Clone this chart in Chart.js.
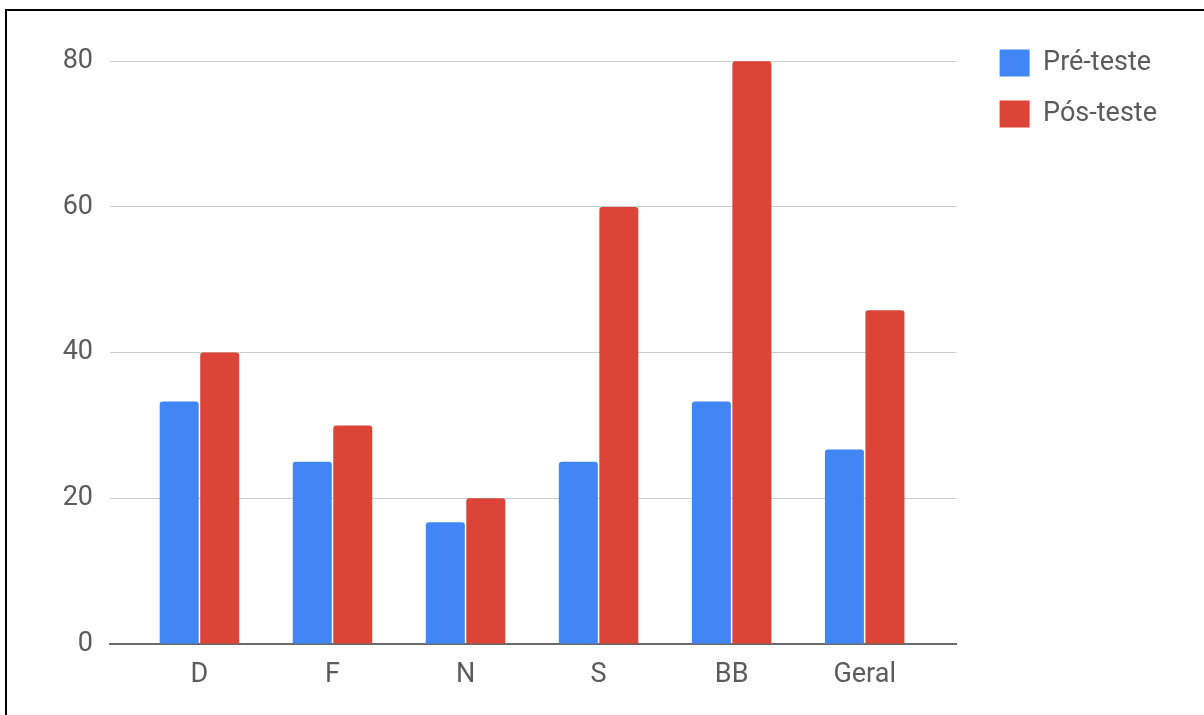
<!DOCTYPE html>
<html>
<head>
<meta charset="utf-8">
<script src="https://cdn.jsdelivr.net/npm/chart.js@4.4.1/dist/chart.umd.min.js"></script>
<style>
  html, body { margin: 0; padding: 0; background: #fff; }
  #wrap { position: relative; width: 1204px; height: 715px; overflow: hidden; }
  #frame { position: absolute; left: 5px; top: 9px; width: 1300px; height: 800px;
           border-top: 2px solid #000; border-left: 2px solid #000; }
  canvas { position: absolute; left: 0; top: 0; }
</style>
</head>
<body>
<div id="wrap">
  <div id="frame"></div>
  <canvas id="chart" width="1204" height="715"></canvas>
</div>
<script>
const categories = ["D", "F", "N", "S", "BB", "Geral"];
const preTest = [33.3, 25, 16.7, 25, 33.3, 26.7];
const postTest = [40, 30, 20, 60, 80, 45.8];
const yTicks = [0, 20, 40, 60, 80];

const toPoints = (values) => values.map((v, i) => ({ x: i, y: v }));

const createComparison = (ctx) => {
  return new Chart(ctx, {
    type: "bar",
    data: {
      datasets: [
        {
          label: "Pré-teste",
          data: toPoints(preTest),
          backgroundColor: "#4285F4",
          borderRadius: 3,
        },
        {
          label: "Pós-teste",
          data: toPoints(postTest),
          backgroundColor: "#DB4437",
          borderRadius: 3,
        },
      ],
    },
    options: {
      responsive: false,
      animation: false,
      categoryPercentage: 0.609,
      barPercentage: 0.963,
      layout: {
        padding: { top: 25.5, left: 4, right: 37, bottom: 0 },
      },
      scales: {
        x: {
          type: "linear",
          offset: false,
          min: -0.6724,
          max: 5.691,
          grid: { display: false, offset: false },
          border: { display: true, color: "#6a6a6a", width: 2 },
          ticks: {
            stepSize: 1,
            includeBounds: false,
            autoSkip: false,
            maxRotation: 0,
            padding: 7,
            color: "#5b5b5b",
            font: { family: "Roboto", size: 27 },
            callback: (v) => categories[v] ?? "",
          },
          afterFit: (scale) => { scale.height = 71; },
        },
        y: {
          min: 0,
          max: 83.84,
          grid: { color: "#cccccc", lineWidth: 1, drawTicks: false },
          border: { display: false },
          afterBuildTicks: (scale) => {
            scale.ticks = yTicks.map((v) => ({ value: v }));
          },
          ticks: {
            padding: 17,
            color: "#5b5b5b",
            font: { family: "Roboto", size: 27 },
          },
          afterFit: (scale) => { scale.width = 106; },
        },
        spacer: {
          type: "linear",
          position: "right",
          display: true,
          grid: { display: false },
          border: { display: false },
          ticks: { display: false },
          afterFit: (scale) => { scale.width = 19; },
        },
      },
      plugins: {
        legend: {
          display: true,
          position: "right",
          align: "start",
          labels: {
            boxWidth: 30,
            boxHeight: 27,
            padding: 24,
            color: "#5b5b5b",
            font: { family: "Roboto", size: 27 },
          },
          onClick: null,
        },
        tooltip: { enabled: false },
      },
    },
  });
};

createComparison(document.getElementById("chart"));
</script>
</body>
</html>
